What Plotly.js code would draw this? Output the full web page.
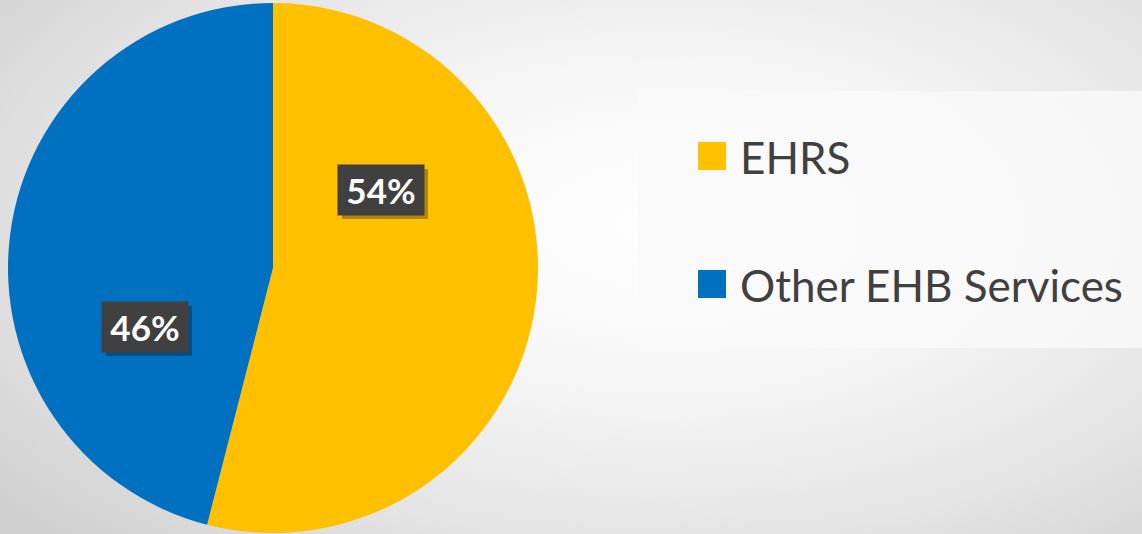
<!DOCTYPE html>
<html>
<head>
<meta charset="utf-8">
<script src="https://cdn.plot.ly/plotly-3.0.1.min.js"></script>
<style>
  html, body { margin: 0; padding: 0; width: 1142px; height: 534px; overflow: hidden; }
  body { background: radial-gradient(ellipse 75% 85% at 58% 42%, #ffffff 0%, #f6f6f6 35%, #e4e4e4 70%, #cfcfcf 100%); }
  #chart { width: 1142px; height: 534px; }
</style>
</head>
<body>
<div id="chart"></div>
<script>
// Data
const categories = ['EHRS', 'Other EHB Services'];
const shares = [54, 46];
const sliceColors = ['#FFC000', '#0070C0'];

const W = 1142, H = 534;
const px = v => v / W;
const py = v => 1 - v / H;

const total = shares.reduce((a, b) => a + b, 0);
const pctText = shares.map(v => Math.round(v / total * 100) + '%');

// layout positions (pixels) for data labels and legend rows
const labelPos = [[381, 190], [145, 327]];
const legendRowY = [156, 284];
const boxW = 86, boxH = 50;

const annotations = [];
const shapes = [];

// legend panel
shapes.push({type: 'rect', xref: 'paper', yref: 'paper', x0: px(638), x1: px(1142), y0: py(91), y1: py(348),
  fillcolor: 'rgba(249,249,249,0.85)', line: {width: 0}, layer: 'below'});

categories.forEach((c, i) => {
  const cy = legendRowY[i];
  shapes.push({type: 'rect', xref: 'paper', yref: 'paper', x0: px(698), x1: px(726), y0: py(cy - 14), y1: py(cy + 14),
    fillcolor: sliceColors[i], line: {width: 0}});
  annotations.push({xref: 'paper', yref: 'paper', x: px(738), y: py(cy + 1), xanchor: 'left', yanchor: 'middle',
    text: c, showarrow: false, font: {family: 'Lato, "Open Sans", sans-serif', size: 44, color: '#404040'}});
});

// percent labels with dark boxes and a soft shadow
pctText.forEach((t, i) => {
  const [lx, ly] = labelPos[i];
  shapes.push({type: 'rect', xref: 'paper', yref: 'paper', layer: 'above',
    x0: px(lx - boxW / 2 + 4), x1: px(lx + boxW / 2 + 4), y0: py(ly + boxH / 2 + 4), y1: py(ly - boxH / 2 + 4),
    fillcolor: 'rgba(0,0,0,0.3)', line: {width: 0}});
  annotations.push({xref: 'paper', yref: 'paper', x: px(lx), y: py(ly), xanchor: 'center', yanchor: 'middle',
    text: '<b>' + t + '</b>', showarrow: false, bgcolor: '#404040', borderpad: 0,
    width: boxW, height: boxH, align: 'center', valign: 'middle',
    font: {family: 'Lato, sans-serif', size: 35, color: '#ffffff'}});
});

const trace = {
  type: 'pie',
  labels: categories,
  values: shares,
  marker: {colors: sliceColors, line: {width: 0}},
  sort: false,
  direction: 'clockwise',
  rotation: 0,
  textinfo: 'none',
  hoverinfo: 'label+percent',
  showlegend: false,
  domain: {x: [8 / W, 538 / W], y: [1 / H, 531 / H]}
};

const layout = {
  width: W, height: H,
  margin: {l: 0, r: 0, t: 0, b: 0},
  paper_bgcolor: 'rgba(0,0,0,0)',
  plot_bgcolor: 'rgba(0,0,0,0)',
  showlegend: false,
  shapes: shapes,
  annotations: annotations
};

Plotly.newPlot('chart', [trace], layout, {displayModeBar: false, staticPlot: true});
</script>
</body>
</html>
